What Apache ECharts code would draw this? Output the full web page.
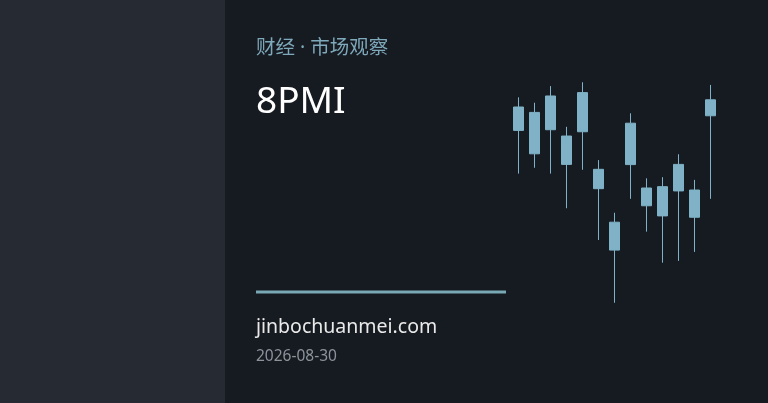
<!DOCTYPE html>
<html><head><meta charset="utf-8">
<script src="https://cdn.jsdelivr.net/npm/echarts@6/dist/echarts.min.js"></script>
<style>html,body{margin:0;padding:0;background:#161a21;}#c{width:768px;height:403px;}</style>
</head><body><div id="c"></div>
<script>
const categories = ['1','2','3','4','5','6','7','8','9','10','11','12','13'];
// [open, close, low, high]
const candles = [
  [88.0, 77.6, 58.4, 92.3],
  [85.6, 67.2, 61.0, 89.9],
  [92.9, 77.9, 58.4, 97.3],
  [75.1, 62.5, 43.0, 79.2],
  [94.4, 77.0, 60.1, 99.0],
  [60.3, 51.7, 28.9, 64.4],
  [36.8, 24.4, 1.0, 41.0],
  [80.8, 62.4, 47.2, 85.2],
  [52.0, 44.1, 32.6, 56.3],
  [52.6, 39.6, 18.8, 56.8],
  [62.5, 50.7, 19.6, 67.0],
  [51.1, 39.0, 23.6, 55.6],
  [91.2, 84.1, 47.2, 97.8]
];
const kicker = '财经 · 市场观察';
const titleText = '8PMI';
const siteText = 'jinbochuanmei.com';
const dateText = '2026-08-30';

const chart = echarts.init(document.getElementById('c'), null, {renderer:'canvas'});
const font = '"Noto Sans", "Noto Sans CJK SC", sans-serif';
chart.setOption({
  backgroundColor: '#161a21',
  animation: false,
  grid: {left: 510.3, right: 49.7, top: 80, bottom: 98},
  xAxis: {type: 'category', data: categories, boundaryGap: true, show: false},
  yAxis: {type: 'value', min: 0, max: 100, show: false, splitLine: {show: false}},
  series: [{
    type: 'candlestick',
    data: candles,
    barWidth: 10,
    itemStyle: {
      color: '#7fb2c6', color0: '#7fb2c6',
      borderColor: '#7fb2c6', borderColor0: '#7fb2c6', borderWidth: 1
    }
  }],
  graphic: [
    {type: 'rect', left: 0, top: 0, z: -10, shape: {width: 225, height: 403}, style: {fill: '#262b33'}},
    {type: 'text', left: 256, top: 39, style: {text: kicker, fill: '#7ea9ba', font: '19.5px ' + font}},
    {type: 'text', left: 256, top: 84, style: {text: titleText, fill: '#ffffff', font: '37px ' + font}},
    {type: 'rect', left: 256, top: 290.5, shape: {width: 250, height: 3}, style: {fill: '#7aa9b6'}},
    {type: 'text', left: 256, top: 318, style: {text: siteText, fill: '#eaeaea', font: '19.5px ' + font}},
    {type: 'text', left: 256, top: 349, style: {text: dateText, fill: '#8d939b', font: '15.5px ' + font}}
  ]
});
</script></body></html>
